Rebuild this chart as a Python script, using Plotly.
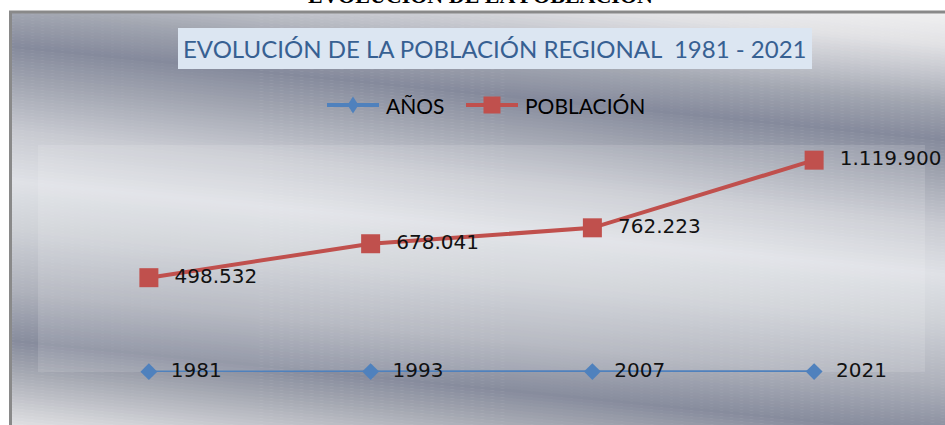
import plotly.graph_objects as go

# ---- data ----
categories = ["1981", "1993", "2007", "2021"]
anios = [1981, 1993, 2007, 2021]
poblacion = [498532, 678041, 762223, 1119900]
pob_labels = ["498.532", "678.041", "762.223", "1.119.900"]
anio_labels = ["1981", "1993", "2007", "2021"]
series_names = ["AÑOS", "POBLACIÓN"]
series_colors = ["#4F81BD", "#C0504D"]

W, H = 945, 425
L, R, T, B = 38, 20, 145, 53
PW, PH = W - L - R, H - T - B


def px(x):
    return (x - L) / PW


def py(y):
    return (H - B - y) / PH


NB = "\u00a0"
fig = go.Figure()

fig.add_trace(go.Scatter(
    x=categories, y=anios, name=series_names[0], mode="lines+markers+text",
    line=dict(color=series_colors[0], width=2.5),
    marker=dict(symbol="diamond", size=13, color=series_colors[0]),
    text=anio_labels, texttemplate=NB * 2 + "%{text}", textposition="middle right",
    textfont=dict(family="DejaVu Sans", size=20, color="#111111"),
    cliponaxis=False, showlegend=False,
))
fig.add_trace(go.Scatter(
    x=categories, y=poblacion, name=series_names[1], mode="lines+markers+text",
    line=dict(color=series_colors[1], width=4),
    marker=dict(symbol="square", size=19, color=series_colors[1]),
    text=pob_labels, texttemplate=NB * 2 + "%{text}", textposition="middle right",
    textfont=dict(family="DejaVu Sans", size=20, color="#111111"),
    cliponaxis=False, showlegend=False,
))

# ---- metallic gradient background (diagonal bands) ----
stops = [(-95, (246, 246, 246)), (-50, (226, 226, 229)), (-20, (196, 198, 205)),
         (10, (162, 166, 177)), (45, (133, 138, 156)), (80, (160, 164, 176)),
         (130, (200, 202, 209)), (180, (223, 225, 230)), (230, (205, 208, 214)),
         (290, (174, 177, 187)), (340, (135, 140, 157)), (370, (165, 168, 178)),
         (430, (230, 230, 232))]


def col(t):
    for (t0, c0), (t1, c1) in zip(stops[:-1], stops[1:]):
        if t0 <= t <= t1:
            f = (t - t0) / (t1 - t0)
            c = [round(a + (b - a) * f) for a, b in zip(c0, c1)]
            return "rgb(%d,%d,%d)" % tuple(c)
    return "rgb(%d,%d,%d)" % (stops[-1][1] if t > stops[-1][0] else stops[0][1])


slope = 0.1
x0p, x1p = 5, 950
shapes = []
step = 3
t = -100
while t < 435:
    ta, tb = t, t + step + 0.6
    pts = [(x0p, ta + slope * x0p), (x1p, ta + slope * x1p),
           (x1p, tb + slope * x1p), (x0p, tb + slope * x0p)]
    path = "M " + " L ".join("%.5f,%.5f" % (px(a), py(b)) for a, b in pts) + " Z"
    shapes.append(dict(type="path", xref="paper", yref="paper", path=path,
                       fillcolor=col(t + step / 2), line=dict(width=0), layer="below"))
    t += step

# plot-area light overlay
shapes.append(dict(type="rect", xref="paper", yref="paper", x0=0, x1=1, y0=0, y1=1,
                   fillcolor="rgba(255,255,255,0.12)", line=dict(width=0), layer="below"))
# white margins outside chart frame
shapes.append(dict(type="rect", xref="paper", yref="paper", x0=px(-10), x1=px(960),
                   y0=py(11), y1=py(-30), fillcolor="white", line=dict(width=0), layer="below"))
shapes.append(dict(type="rect", xref="paper", yref="paper", x0=px(-10), x1=px(9),
                   y0=py(440), y1=py(-30), fillcolor="white", line=dict(width=0), layer="below"))
# frame border
shapes.append(dict(type="path", xref="paper", yref="paper",
                   path="M %.5f,%.5f L %.5f,%.5f L %.5f,%.5f" % (px(10.5), py(440), px(10.5), py(12), px(960), py(12)),
                   line=dict(color="#898989", width=3), layer="below"))
# title box
shapes.append(dict(type="rect", xref="paper", yref="paper", x0=px(178), x1=px(812),
                   y0=py(69), y1=py(28), fillcolor="#DCE6F2", line=dict(width=0), layer="below"))

# ---- legend (Excel style: long line with marker in the middle) ----
LEG_Y = 105
leg_items = [(327, 379, 384), (466, 518, 523)]
for (lx0, lx1, tx), name, c, sym in zip(leg_items, series_names, series_colors, ["diamond", "square"]):
    shapes.append(dict(type="line", xref="paper", yref="paper", x0=px(lx0), x1=px(lx1),
                       y0=py(LEG_Y), y1=py(LEG_Y), line=dict(color=c, width=4), layer="above"))
    cx = (lx0 + lx1) / 2
    if sym == "diamond":
        pts = [(cx, LEG_Y - 8.5), (cx + 5.5, LEG_Y), (cx, LEG_Y + 8.5), (cx - 5.5, LEG_Y)]
    else:
        pts = [(cx - 8.5, LEG_Y - 8.5), (cx + 8.5, LEG_Y - 8.5), (cx + 8.5, LEG_Y + 8.5), (cx - 8.5, LEG_Y + 8.5)]
    path = "M " + " L ".join("%.5f,%.5f" % (px(a), py(b)) for a, b in pts) + " Z"
    shapes.append(dict(type="path", xref="paper", yref="paper", path=path,
                       fillcolor=c, line=dict(width=0), layer="above"))

annotations = [
    dict(text="EVOLUCIÓN DE LA POBLACIÓN REGIONAL  1981 - 2021", xref="paper", yref="paper",
         x=px(495), y=py(48), xanchor="center", yanchor="middle", showarrow=False,
         font=dict(family="Lato, DejaVu Sans Condensed", size=24, color="#376092")),
    dict(text="<b>EVOLUCIÓN DE LA POBLACIÓN</b>", xref="paper", yref="paper",
         x=px(480), y=py(-5), xanchor="center", yanchor="middle", showarrow=False,
         font=dict(family="Liberation Serif", size=22, color="black")),
]
for (lx0, lx1, tx), name in zip(leg_items, series_names):
    annotations.append(dict(text=name, xref="paper", yref="paper", x=px(tx), y=py(LEG_Y),
                            xanchor="left", yanchor="middle", showarrow=False,
                            font=dict(family="Lato, DejaVu Sans Condensed", size=21, color="black")))

fig.update_layout(
    width=W, height=H,
    margin=dict(l=L, r=R, t=T, b=B),
    paper_bgcolor="white", plot_bgcolor="rgba(0,0,0,0)",
    shapes=shapes, annotations=annotations,
    showlegend=False,
    xaxis=dict(type="category", range=[-0.5, 3.5], visible=False, fixedrange=True),
    yaxis=dict(range=[0, 1200000], visible=False, fixedrange=True),
)

fig.write_html("out.html", config={"displayModeBar": False},
               post_script="document.body.style.margin='0px';")
